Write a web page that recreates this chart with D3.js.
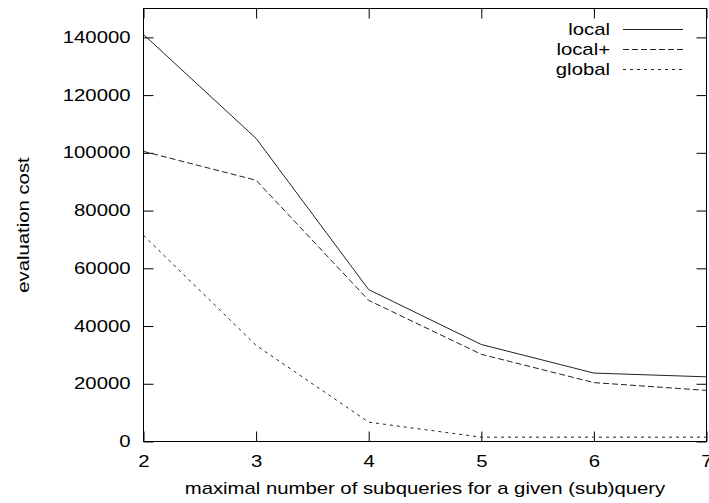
<!DOCTYPE html>
<html>
<head>
<meta charset="utf-8">
<script src="https://cdn.jsdelivr.net/npm/d3@7"></script>
<style>
  html, body { margin: 0; padding: 0; background: #fff; }
  svg { display: block; }
  text { font-family: "Liberation Sans", Arial, Helvetica, sans-serif; font-size: 16px; fill: #000; }
</style>
</head>
<body>
<svg id="chart" width="709" height="503"></svg>
<script>
// Evaluation cost versus the maximal number of subqueries per (sub)query
const subqueryLimits = [2, 3, 4, 5, 6, 7];
const localCost      = [141000, 105000, 52600, 33600, 23700, 22400];
const localPlusCost  = [100500, 90500, 48900, 30200, 20400, 17700];
const globalCost     = [71400, 33300, 6700, 1500, 1500, 1500];
const seriesNames    = ["local", "local+", "global"];
const yTickValues    = [0, 20000, 40000, 60000, 80000, 100000, 120000, 140000];
const xTickValues    = [2, 3, 4, 5, 6, 7];
const xTitle = "maximal number of subqueries for a given (sub)query";
const yTitle = "evaluation cost";

(function () {
  const stretch = 1.27;           // wide glyphs, like the old plotting fonts
  const dashes = [null, "6,3", "3,4"];
  const series = [localCost, localPlusCost, globalCost];

  const svg = d3.select("#chart");
  const plotLeft = 143.5, plotRight = 706.5, plotTop = 8.5, plotBottom = 441.5;

  const x = d3.scaleLinear().domain([2, 7]).range([plotLeft, plotRight]);
  const y = d3.scaleLinear().domain([0, 150000]).range([plotBottom, plotTop]);

  // ticks on all four sides, pointing inward
  const gl = svg.append("g").attr("transform", `translate(${plotLeft},0)`)
    .call(d3.axisLeft(y).tickValues(yTickValues).tickSizeInner(-10).tickSizeOuter(0).tickPadding(13).tickFormat(d3.format("d")));
  const gb = svg.append("g").attr("transform", `translate(0,${plotBottom})`)
    .call(d3.axisBottom(x).tickValues(xTickValues).tickSizeInner(-10).tickSizeOuter(0).tickPadding(14).tickFormat(d3.format("d")));
  svg.append("g").attr("transform", `translate(${plotRight},0)`)
    .call(d3.axisRight(y).tickValues(yTickValues).tickSizeInner(-10).tickSizeOuter(0).tickFormat(""));
  svg.append("g").attr("transform", `translate(0,${plotTop})`)
    .call(d3.axisTop(x).tickValues(xTickValues).tickSizeInner(-10).tickSizeOuter(0).tickFormat(""));

  svg.selectAll(".domain").remove();
  svg.selectAll(".tick line").attr("stroke", "#000");
  svg.selectAll(".tick text").attr("font-size", 16).attr("font-family", null).attr("fill", "#000");

  gl.selectAll(".tick text")
    .attr("x", -13 / stretch)
    .attr("transform", `scale(${stretch},1)`);
  gb.selectAll(".tick text")
    .attr("transform", `scale(${stretch},1)`);

  // frame
  svg.append("rect")
    .attr("x", plotLeft).attr("y", plotTop)
    .attr("width", plotRight - plotLeft).attr("height", plotBottom - plotTop)
    .attr("fill", "none").attr("stroke", "#000").attr("stroke-width", 1);

  // series lines
  const line = d3.line()
    .x((d, i) => x(subqueryLimits[i]))
    .y(d => y(d));

  series.forEach((vals, k) => {
    svg.append("path")
      .datum(vals)
      .attr("d", line)
      .attr("fill", "none")
      .attr("stroke", "#222")
      .attr("stroke-width", 1)
      .attr("stroke-dasharray", dashes[k]);
  });

  // stretched text helper
  function label(px, py, str, anchor, rotate) {
    const g = svg.append("g")
      .attr("transform", `translate(${px},${py})` + (rotate ? ` rotate(${rotate})` : "") + ` scale(${stretch},1)`);
    g.append("text").attr("text-anchor", anchor).text(str);
    return g;
  }

  label((plotLeft + plotRight) / 2, 494, xTitle, "middle");
  label(29, (plotTop + plotBottom) / 2, yTitle, "middle", -90);

  // legend
  const legendY = [29.5, 49.5, 69.5];
  seriesNames.forEach((name, k) => {
    label(610, legendY[k] + 5.5, name, "end");
    svg.append("line")
      .attr("x1", 623).attr("x2", 683)
      .attr("y1", legendY[k]).attr("y2", legendY[k])
      .attr("stroke", "#222").attr("stroke-width", 1)
      .attr("stroke-dasharray", dashes[k]);
  });
})();
</script>
</body>
</html>
